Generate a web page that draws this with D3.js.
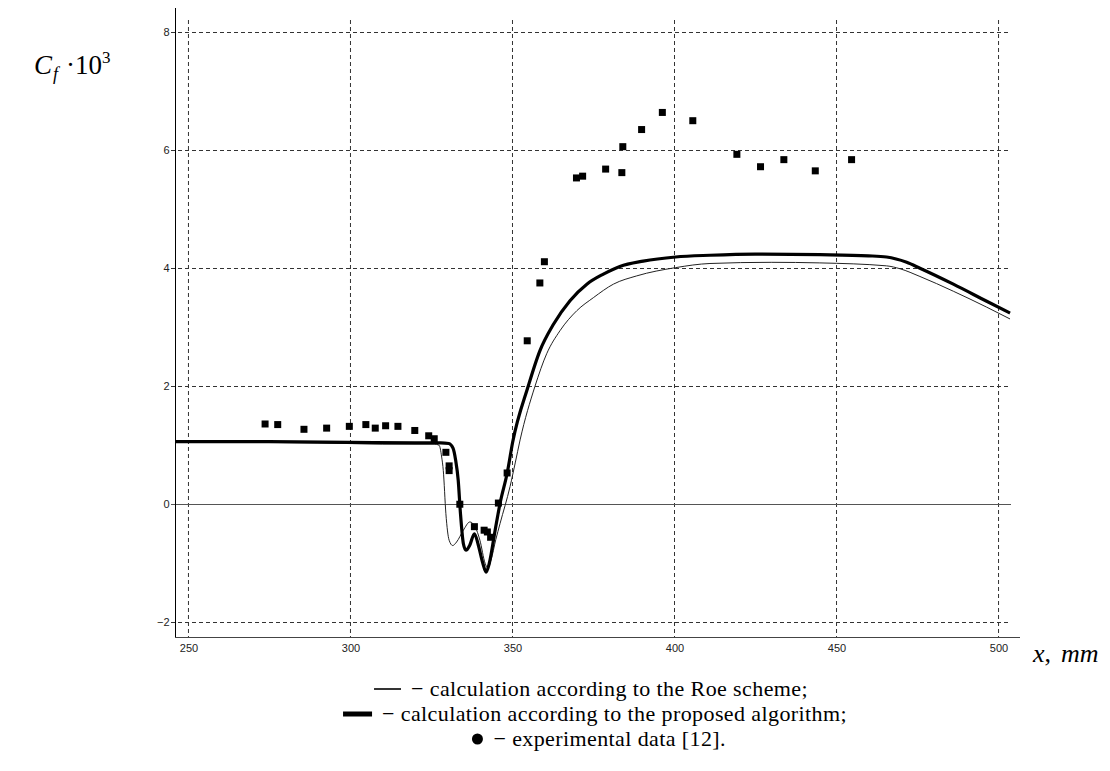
<!DOCTYPE html>
<html>
<head>
<meta charset="utf-8">
<script src="https://cdn.jsdelivr.net/npm/d3@7"></script>
<style>
  html, body { margin: 0; padding: 0; background: #fff; }
  svg { display: block; }
</style>
</head>
<body>
<svg id="chart" width="1110" height="771"></svg>
<script>
// ---- data ----
const xTicks = [250, 300, 350, 400, 450, 500];
const yTicks = [-2, 0, 2, 4, 6, 8];

// Roe scheme (thin line)
const roeX = [246, 270, 290, 310, 326, 327.5, 328.3, 328.8, 329.6, 330.6, 331.7, 332.9, 335.0, 337.0, 338.6, 340.1, 341.7, 342.5, 343.5, 345.0, 346.3, 349.4, 351.0, 352.5, 357.1, 360.7, 364.8, 370.0, 375.1, 381.3, 388.5, 400.5, 411.1, 430, 445, 465.6, 469.8, 475.9, 486.2, 496.5, 503.7];
const roeY = [1.06, 1.05, 1.04, 1.02, 1.02, 1.00, 0.80, 0.57, -0.16, -0.61, -0.70, -0.64, -0.44, -0.30, -0.38, -0.61, -1.00, -1.08, -0.95, -0.60, -0.33, 0.30, 0.70, 1.09, 2.00, 2.55, 2.94, 3.28, 3.50, 3.73, 3.87, 4.01, 4.08, 4.10, 4.09, 4.04, 3.99, 3.86, 3.61, 3.34, 3.14];

// proposed algorithm (thick line)
const propX = [246, 270, 300, 320, 328, 330.5, 331.8, 332.6, 333.4, 334.1, 335.0, 335.8, 337.0, 338.4, 339.6, 341.0, 342.0, 343.0, 344.8, 346.3, 348.6, 350.2, 355.0, 358.6, 362.8, 367.9, 373.1, 378.2, 383.3, 390.5, 400.5, 411.1, 425, 445, 460, 465.6, 471.8, 475.9, 486.2, 496.5, 503.7];
const propY = [1.06, 1.06, 1.05, 1.04, 1.04, 1.03, 0.95, 0.75, 0.41, -0.16, -0.67, -0.78, -0.69, -0.50, -0.69, -1.00, -1.15, -1.00, -0.44, 0.01, 0.55, 1.05, 2.00, 2.60, 3.05, 3.45, 3.73, 3.90, 4.03, 4.12, 4.19, 4.22, 4.24, 4.23, 4.21, 4.19, 4.10, 4.00, 3.73, 3.44, 3.24];

// experimental data [12]
const expX = [273.8, 277.7, 285.8, 292.8, 299.8, 304.9, 307.8, 311.0, 314.8, 320.0, 324.3, 326.0, 329.6, 330.6, 330.6, 333.9, 338.4, 341.4, 342.4, 343.4, 345.8, 348.5, 354.7, 358.6, 360.0, 369.9, 371.8, 378.9, 383.9, 384.2, 390.0, 396.4, 405.8, 419.4, 426.7, 433.9, 443.6, 454.8];
const expY = [1.36, 1.35, 1.27, 1.29, 1.32, 1.35, 1.29, 1.33, 1.32, 1.25, 1.16, 1.11, 0.88, 0.65, 0.57, 0.00, -0.38, -0.44, -0.47, -0.56, 0.02, 0.53, 2.77, 3.75, 4.11, 5.53, 5.56, 5.68, 5.62, 6.06, 6.35, 6.64, 6.50, 5.93, 5.72, 5.84, 5.65, 5.84];

const legendRows = [
  "\u2212 calculation according to the Roe scheme;",
  "\u2212 calculation according to the proposed algorithm;",
  "\u2212 experimental data [12]."
];

// ---- layout ----
const svg = d3.select("#chart");
const x = d3.scaleLinear().domain([246, 504]).range([175, 1011]);
const y = d3.scaleLinear().domain([-2.25, 8.41]).range([637, 8]);
const gridTop = 20, plotRight = 1011;

// grid: vertical
svg.append("g").selectAll("line").data(xTicks).join("line")
  .attr("x1", d => x(d) + 0.5).attr("x2", d => x(d) + 0.5)
  .attr("y1", gridTop).attr("y2", y.range()[0])
  .attr("stroke", "#333").attr("stroke-width", 1).attr("stroke-dasharray", "4,3");
// grid: horizontal (0 is a solid line)
svg.append("g").selectAll("line").data(yTicks.filter(d => d !== 0)).join("line")
  .attr("x1", 171).attr("x2", plotRight)
  .attr("y1", d => Math.round(y(d)) + 0.5).attr("y2", d => Math.round(y(d)) + 0.5)
  .attr("stroke", "#333").attr("stroke-width", 1).attr("stroke-dasharray", "4,3");
svg.append("line")
  .attr("x1", 171).attr("x2", plotRight)
  .attr("y1", Math.round(y(0)) + 0.5).attr("y2", Math.round(y(0)) + 0.5)
  .attr("stroke", "#555").attr("stroke-width", 1);

// axes lines
svg.append("line").attr("x1", 175.5).attr("x2", 175.5).attr("y1", 8).attr("y2", 637.5)
  .attr("stroke", "#000").attr("stroke-width", 1);
svg.append("line").attr("x1", 175).attr("x2", 1020).attr("y1", 637.5).attr("y2", 637.5)
  .attr("stroke", "#444").attr("stroke-width", 1);

// tick labels via d3 axes
const yAxis = svg.append("g").attr("transform", "translate(175.5,0)")
  .call(d3.axisLeft(y).tickValues(yTicks).tickSize(0).tickPadding(6).tickFormat(d3.format("d")));
yAxis.select(".domain").remove();
yAxis.selectAll("text").attr("font-family", "Liberation Sans, Arial, sans-serif").attr("font-size", 11).attr("fill", "#222");

const xAxis = svg.append("g").attr("transform", "translate(0.5,638)")
  .call(d3.axisBottom(x).tickValues(xTicks).tickSize(0).tickPadding(6).tickFormat(d3.format("d")));
xAxis.select(".domain").remove();
xAxis.selectAll("text").attr("font-family", "Liberation Sans, Arial, sans-serif").attr("font-size", 11).attr("fill", "#222");

// curves
const line = d3.line().x(d => x(d[0])).y(d => y(d[1])).curve(d3.curveMonotoneX);
const roe = roeX.map((v, i) => [v, roeY[i]]);
const prop = propX.map((v, i) => [v, propY[i]]);
svg.append("path").attr("d", line(roe)).attr("fill", "none").attr("stroke", "#222").attr("stroke-width", 1);
svg.append("path").attr("d", line(prop)).attr("fill", "none").attr("stroke", "#000").attr("stroke-width", 3.2)
  .attr("stroke-linejoin", "round");

// experimental squares
const sq = 7;
svg.append("g").selectAll("rect").data(expX.map((v, i) => [v, expY[i]])).join("rect")
  .attr("x", d => x(d[0]) - sq / 2).attr("y", d => y(d[1]) - sq / 2)
  .attr("width", sq).attr("height", sq).attr("fill", "#000");

// axis titles
const yl = svg.append("text").attr("x", 34).attr("y", 74)
  .attr("font-family", "Liberation Serif, Times New Roman, serif").attr("font-size", 27).attr("fill", "#000");
yl.append("tspan").attr("font-style", "italic").text("C");
yl.append("tspan").attr("font-style", "italic").attr("font-size", 18).attr("dy", 6).attr("dx", 1).text("f");
yl.append("tspan").attr("dy", -6).attr("dx", 8).text("\u00b710");
yl.append("tspan").attr("font-size", 17).attr("dy", -11).text("3");

const xl = svg.append("text").attr("x", 1033).attr("y", 662)
  .attr("font-family", "Liberation Serif, Times New Roman, serif").attr("font-size", 26).attr("fill", "#000");
xl.append("tspan").attr("font-style", "italic").text("x");
xl.append("tspan").text(",");
xl.append("tspan").attr("font-style", "italic").attr("dx", 10).text("mm");

// legend: each row right-aligned to the end
const legFont = "Liberation Serif, Times New Roman, serif";
const rowsY = [696, 721, 746];
const rowEnd = [808, 847, 726];
const symW = [27, 29, 12];
legendRows.forEach((t, i) => {
  const tx = svg.append("text").attr("y", rowsY[i])
    .attr("font-family", legFont).attr("font-size", 22).attr("letter-spacing", 0.4)
    .attr("fill", "#000").text(t);
  const w = tx.node().getComputedTextLength();
  const start = rowEnd[i] - w;
  tx.attr("x", start);
  const sx = start - 10 - symW[i];
  const cy = rowsY[i] - 7;
  if (i === 0) {
    svg.append("line").attr("x1", sx).attr("x2", sx + symW[0]).attr("y1", cy).attr("y2", cy)
      .attr("stroke", "#000").attr("stroke-width", 1.6);
  } else if (i === 1) {
    svg.append("rect").attr("x", sx).attr("y", cy - 2.5).attr("width", symW[1]).attr("height", 5).attr("fill", "#000");
  } else {
    svg.append("circle").attr("cx", sx + 6).attr("cy", cy).attr("r", 5.5).attr("fill", "#000");
  }
});
</script>
</body>
</html>
